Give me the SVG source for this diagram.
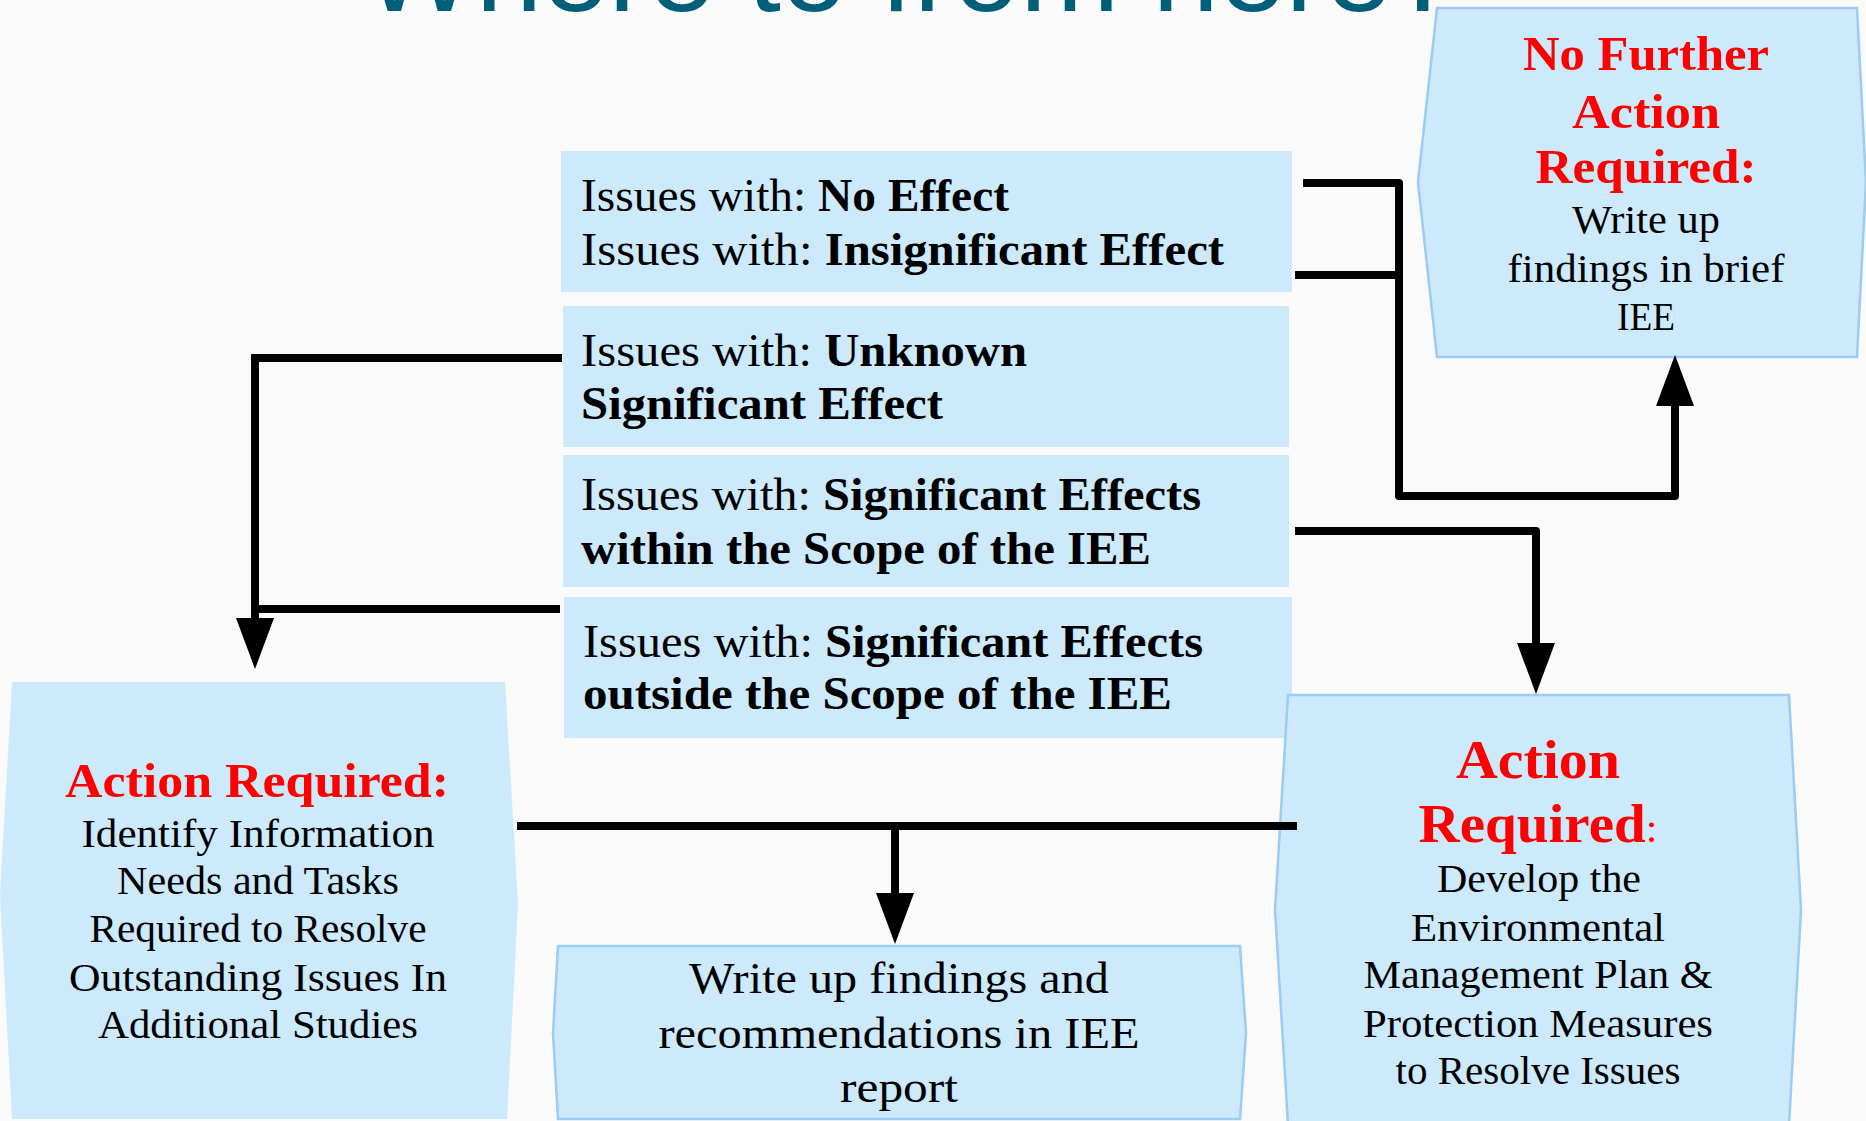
<svg xmlns="http://www.w3.org/2000/svg" width="1866" height="1121" viewBox="0 0 1866 1121">
  <defs>
    <marker id="arrow" markerUnits="userSpaceOnUse" markerWidth="52" markerHeight="38" refX="1" refY="19" orient="auto" overflow="visible">
      <path d="M0,0 L51,19 L0,38 z" fill="#000"/>
    </marker>
    <style>
      .bg { fill: #fafafa; }
      .issue { fill: #cceafc; }
      .node { fill: #cceafc; }
      .edged { stroke: #9ccbf4; stroke-width: 2.5; }
      .t { font-family: "Liberation Serif", "DejaVu Serif", serif; fill: #000; }
      .b { font-weight: bold; }
      .red { fill: #ff0000; font-weight: bold; }
      .mid { text-anchor: middle; }
      .link { fill: none; stroke: #000; stroke-width: 8; }
      .title { font-family: "Liberation Sans", "DejaVu Sans", sans-serif; fill: #005f78; font-size: 119px; }
    </style>
  </defs>

  <rect class="bg" x="0" y="0" width="1866" height="1121"/>

  <!-- slide heading, mostly above the visible area -->
  <text class="title" x="363" y="11" textLength="1095" lengthAdjust="spacingAndGlyphs">Where to from here?</text>

  <!-- issue categories -->
  <g id="issue-no-insignificant">
    <rect class="issue" x="561" y="151" width="731" height="141"/>
    <text class="t" x="581" y="211" font-size="46" textLength="428" lengthAdjust="spacingAndGlyphs">Issues with: <tspan class="b">No Effect</tspan></text>
    <text class="t" x="581" y="265" font-size="46" textLength="643" lengthAdjust="spacingAndGlyphs">Issues with: <tspan class="b">Insignificant Effect</tspan></text>
  </g>
  <g id="issue-unknown">
    <rect class="issue" x="563" y="306" width="726" height="141"/>
    <text class="t" x="581" y="366" font-size="46" textLength="446" lengthAdjust="spacingAndGlyphs">Issues with: <tspan class="b">Unknown</tspan></text>
    <text class="t b" x="581" y="419" font-size="46" textLength="362" lengthAdjust="spacingAndGlyphs">Significant Effect</text>
  </g>
  <g id="issue-within-scope">
    <rect class="issue" x="563" y="455" width="726" height="132"/>
    <text class="t" x="581" y="510" font-size="46" textLength="620" lengthAdjust="spacingAndGlyphs">Issues with: <tspan class="b">Significant Effects</tspan></text>
    <text class="t b" x="581" y="564" font-size="46" textLength="570" lengthAdjust="spacingAndGlyphs">within the Scope of the IEE</text>
  </g>
  <g id="issue-outside-scope">
    <rect class="issue" x="564" y="597" width="728" height="141"/>
    <text class="t" x="583" y="657" font-size="46" textLength="620" lengthAdjust="spacingAndGlyphs">Issues with: <tspan class="b">Significant Effects</tspan></text>
    <text class="t b" x="583" y="709" font-size="46" textLength="589" lengthAdjust="spacingAndGlyphs">outside the Scope of the IEE</text>
  </g>

  <!-- outcomes -->
  <g id="no-further-action">
    <polygon class="node edged" points="1437,8 1857,8 1866,182 1857,357 1437,357 1418,182"/>
    <text class="t red mid" x="1646" y="70" font-size="49" textLength="246" lengthAdjust="spacingAndGlyphs">No Further</text>
    <text class="t red mid" x="1646" y="128" font-size="49" textLength="148" lengthAdjust="spacingAndGlyphs">Action</text>
    <text class="t red mid" x="1646" y="183" font-size="49" textLength="221" lengthAdjust="spacingAndGlyphs">Required:</text>
    <text class="t mid" x="1646" y="233" font-size="40" textLength="148" lengthAdjust="spacingAndGlyphs">Write up</text>
    <text class="t mid" x="1646" y="282" font-size="40" textLength="277" lengthAdjust="spacingAndGlyphs">findings in brief</text>
    <text class="t mid" x="1646" y="330" font-size="40" textLength="58" lengthAdjust="spacingAndGlyphs">IEE</text>
  </g>

  <g id="action-additional-studies">
    <polygon class="node" points="12,682 505,682 518,903 507,1119 12,1119 0,895"/>
    <text class="t red mid" x="257" y="797" font-size="48" textLength="384" lengthAdjust="spacingAndGlyphs">Action Required:</text>
    <text class="t mid" x="258" y="847" font-size="40" textLength="353" lengthAdjust="spacingAndGlyphs">Identify Information</text>
    <text class="t mid" x="258" y="894" font-size="40" textLength="282" lengthAdjust="spacingAndGlyphs">Needs and Tasks</text>
    <text class="t mid" x="258" y="942" font-size="40" textLength="337" lengthAdjust="spacingAndGlyphs">Required to Resolve</text>
    <text class="t mid" x="258" y="991" font-size="40" textLength="378" lengthAdjust="spacingAndGlyphs">Outstanding Issues In</text>
    <text class="t mid" x="258" y="1038" font-size="40" textLength="320" lengthAdjust="spacingAndGlyphs">Additional Studies</text>
  </g>

  <g id="write-up-report">
    <polygon class="node edged" points="558,946 1240,946 1246,1033 1240,1119 558,1119 553,1033"/>
    <text class="t mid" x="899" y="993" font-size="45" textLength="420" lengthAdjust="spacingAndGlyphs">Write up findings and</text>
    <text class="t mid" x="899" y="1048" font-size="45" textLength="481" lengthAdjust="spacingAndGlyphs">recommendations in IEE</text>
    <text class="t mid" x="899" y="1102" font-size="45" textLength="118" lengthAdjust="spacingAndGlyphs">report</text>
  </g>

  <g id="action-emp">
    <polygon class="node edged" points="1288,695 1789,695 1801,910 1789,1125 1288,1125 1275,910"/>
    <text class="t red mid" x="1538" y="778" font-size="54" textLength="164" lengthAdjust="spacingAndGlyphs">Action</text>
    <text class="t red mid" x="1538" y="842" font-size="54" textLength="239" lengthAdjust="spacingAndGlyphs">Required<tspan font-size="40" font-weight="normal">:</tspan></text>
    <text class="t mid" x="1539" y="892" font-size="40" textLength="204" lengthAdjust="spacingAndGlyphs">Develop the</text>
    <text class="t mid" x="1538" y="941" font-size="40" textLength="254" lengthAdjust="spacingAndGlyphs">Environmental</text>
    <text class="t mid" x="1538" y="988" font-size="40" textLength="349" lengthAdjust="spacingAndGlyphs">Management Plan &amp;</text>
    <text class="t mid" x="1538" y="1037" font-size="40" textLength="350" lengthAdjust="spacingAndGlyphs">Protection Measures</text>
    <text class="t mid" x="1538" y="1084" font-size="40" textLength="285" lengthAdjust="spacingAndGlyphs">to Resolve Issues</text>
  </g>

  <!-- connectors -->
  <g id="connectors">
    <path class="link" d="M562,358 H255 V619" marker-end="url(#arrow)"/>
    <path class="link" d="M560,609 H259"/>
    <path class="link" d="M517,826 H1297"/>
    <path class="link" d="M895,826 V894" marker-end="url(#arrow)"/>
    <path class="link" stroke-linejoin="round" d="M1303,183 H1399 V496 H1675 V405" marker-end="url(#arrow)"/>
    <path class="link" d="M1295,275 H1399"/>
    <path class="link" stroke-linejoin="round" d="M1295,531 H1536 V644" marker-end="url(#arrow)"/>
  </g>
</svg>
